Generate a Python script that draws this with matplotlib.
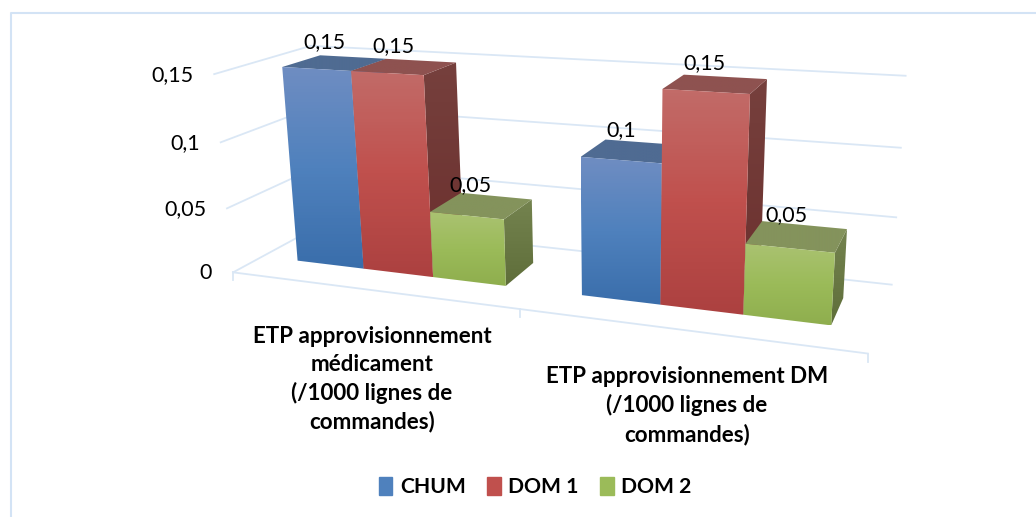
import numpy as np
import matplotlib
matplotlib.use('Agg')
import matplotlib.pyplot as plt
from matplotlib.colors import LinearSegmentedColormap
from matplotlib.patches import Polygon, Patch

categories = ['ETP approvisionnement\nmédicament\n(/1000 lignes de\ncommandes)',
              'ETP approvisionnement DM\n(/1000 lignes de\ncommandes)']
series = ['CHUM', 'DOM 1', 'DOM 2']
chum = [0.15, 0.10]
dom1 = [0.15, 0.15]
dom2 = [0.05, 0.05]
ticks = [0, 0.05, 0.1, 0.15]
tick_labels = ['0', '0,05', '0,1', '0,15']
ymax = 0.15

# camera of the fake 3d box: (x along categories, value/ymax, depth) -> pixels
P = np.array([[481.839225, -28.844628, 131.000465, 233.103445],
              [18.920510, -201.683964, -21.252570, 272.362024],
              [-0.176088, -0.046422, 0.124759, 1.0]])

# bar edges along x for each category, bars depth range
edges = [[0.068, 0.192, 0.317, 0.442], [0.567, 0.690, 0.814, 0.939]]
z0, z1 = 0.300, 0.707

front_cols = {'CHUM': ['#6f8dc2', '#4f81bd', '#3a6eab'],
              'DOM 1': ['#c26b68', '#c0504d', '#ac4140'],
              'DOM 2': ['#aac271', '#9bbb59', '#8fae4e']}
top_cols = {'CHUM': '#4f6b92', 'DOM 1': '#8e5250', 'DOM 2': '#84935c'}
side_cols = {'CHUM': ['#3f5f8a', '#2f5080'], 'DOM 1': ['#76403d', '#6b2f2d'],
             'DOM 2': ['#74834f', '#5f6e3a']}
legend_cols = ['#4f81bd', '#c0504d', '#9bbb59']
grid = '#dae7f5'


def proj(x, v, z):
    q = P @ np.array([x, v / ymax, z, 1.0])
    return q[0] / q[2], q[1] / q[2]


def face(pts, cols):
    cm = LinearSegmentedColormap.from_list('f', cols)
    xs = [p[0] for p in pts]
    ys = [p[1] for p in pts]
    im = ax.imshow(np.linspace(0, 1, 64).reshape(-1, 1), cmap=cm, aspect='auto', zorder=3,
                   extent=(min(xs), max(xs), max(ys), min(ys)))
    im.set_clip_path(Polygon(pts, transform=ax.transData))


fig = plt.figure(figsize=(10.36, 5.17), dpi=100)
ax = fig.add_axes([0, 0, 1, 1])
ax.axis('off')
ax.plot([11, 11, 1036], [517, 13, 13], color='#d3e3f5', lw=1.5)

for t in ticks:
    ax.plot(*zip(proj(0, t, 0), proj(0, t, 1), proj(1, t, 1)), color=grid, lw=1.3)
ax.plot(*zip(proj(0, 0, 0), proj(1, 0, 0)), color=grid, lw=1.3)
for x in [0, 0.5, 1]:
    px, py = proj(x, 0, 0)
    ax.plot([px, px], [py, py + 8], color=grid, lw=1.3)

for g in range(2):
    for i, (name, vals) in enumerate(zip(series, [chum, dom1, dom2])):
        xa, xb = edges[g][i], edges[g][i + 1]
        v = vals[g]
        side = [proj(xb, v, z0), proj(xb, v, z1), proj(xb, 0, z1), proj(xb, 0, z0)]
        top = [proj(xa, v, z0), proj(xb, v, z0), proj(xb, v, z1), proj(xa, v, z1)]
        front = [proj(xa, v, z0), proj(xb, v, z0), proj(xb, 0, z0), proj(xa, 0, z0)]
        face(side, side_cols[name])
        face(top, [top_cols[name], top_cols[name]])
        face(front, front_cols[name])
        tx, ty = proj((xa + xb) / 2, v, (z0 + z1) / 2)
        ax.text(tx - 11, ty - 11, ('%g' % v).replace('.', ','), ha='center', va='bottom',
                fontsize=15.5, family='Lato', zorder=5)

for t, l in zip(ticks, tick_labels):
    px, py = proj(0, t, 0)
    ax.text(px - 21, py + 1, l, ha='right', va='center', fontsize=15.5, family='Lato')

for x, c in zip([0.25, 0.75], categories):
    px, py = proj(x, 0, 0)
    ax.text(px + 2, py + 36, c, ha='center', va='top', fontsize=16.1, fontweight='bold',
            family='Lato', linespacing=1.4)

ax.set_xlim(0, 1036)
ax.set_ylim(517, 0)

handles = [Patch(color=c, label=s) for c, s in zip(legend_cols, series)]
ax.legend(handles=handles, loc='center', bbox_to_anchor=(535 / 1036, 1 - 487 / 517), ncol=3,
          frameon=False, handlelength=0.66, handleheight=0.9, handletextpad=0.35, columnspacing=1.0,
          prop={'family': 'Lato', 'weight': 'bold', 'size': 15.2})
fig.savefig('out.png', dpi=100)
